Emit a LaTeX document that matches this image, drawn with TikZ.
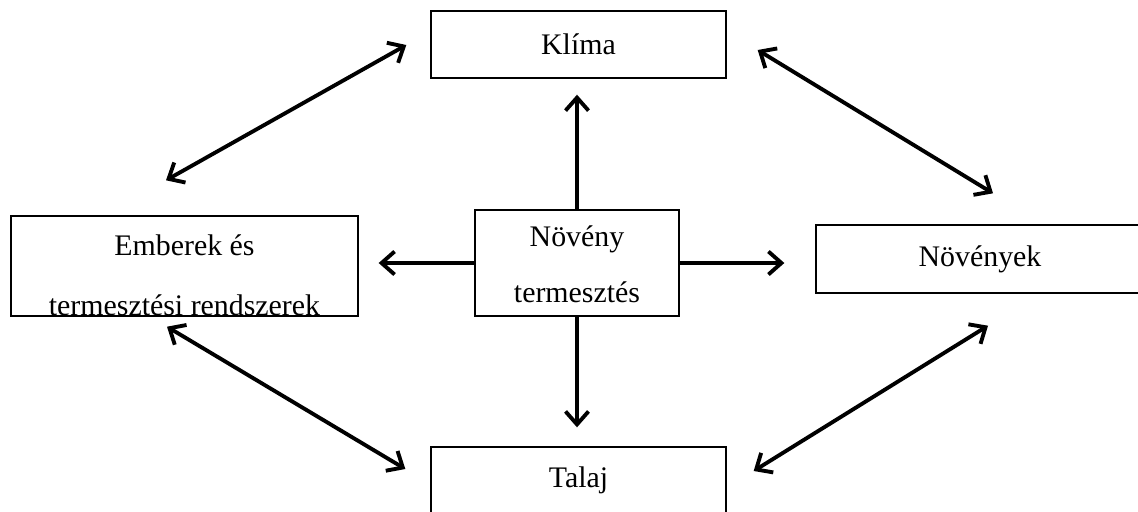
\documentclass[tikz,border=0pt]{standalone}
\usepackage{fontspec}
\setmainfont{Liberation Serif}
\usetikzlibrary{arrows.meta}
\usetikzlibrary{positioning}

\begin{document}
\begin{tikzpicture}[x=0.02cm,y=-0.02cm,
    box/.style={draw,line width=0.8pt,inner sep=0pt,align=center,
      font=\fontsize{17}{32}\selectfont},
    arr/.style={line width=2.2pt,-{Straight Barb[length=2.6mm,width=4.6mm]}},
    dbl/.style={line width=2.2pt,
      {Straight Barb[length=2.6mm,width=4.6mm]}-{Straight Barb[length=2.6mm,width=4.6mm]}}]
    \clip (0,0) rectangle (1138,511);

    \node[box,minimum width=5.9cm,minimum height=1.34cm] (klima) at (578.5,44.5) {Klíma};
    \node[box,minimum width=5.9cm,minimum height=1.34cm] (talaj) at (578.5,480.5) {Talaj};
    \node[box,minimum width=6.94cm,minimum height=2cm,text height=55.8pt,text depth=0pt]
      (emberek) at (184.5,266) {Emberek és\\[2pt]termesztési rendszerek};
    \node[box,minimum width=4.08cm,minimum height=2.12cm,text height=45.5pt,text depth=0pt]
      (termesztes) at (577,263) {Növény\\termesztés};
    \node[box,minimum width=6.56cm,minimum height=1.36cm] (novenyek) at (980,259) {Növények};

    % from the centre outwards
    \draw[arr,shorten >=0.32cm] (termesztes.north) -- (termesztes.north |- klima.south);
    \draw[arr,shorten >=0.38cm] (termesztes.south) -- (termesztes.south |- talaj.north);
    \draw[arr,shorten >=0.4cm] (termesztes.west) -- (termesztes.west -| emberek.east);
    \draw[arr,shorten >=0.62cm] (termesztes.east) -- (termesztes.east -| novenyek.west);

    % round the outside
    \draw[dbl] ([shift={(-24,0.5)}]klima.west) -- ([shift={(-18.5,-35)}]emberek.north);
    \draw[dbl] ([shift={(31,5.5)}]klima.east) -- ([shift={(13,-31)}]novenyek.north);
    \draw[dbl] ([shift={(-17.5,10)}]emberek.south) -- ([shift={(-25,-11.5)}]talaj.west);
    \draw[dbl] ([shift={(8,32)}]novenyek.south) -- ([shift={(27,-9.5)}]talaj.east);
\end{tikzpicture}
\end{document}
